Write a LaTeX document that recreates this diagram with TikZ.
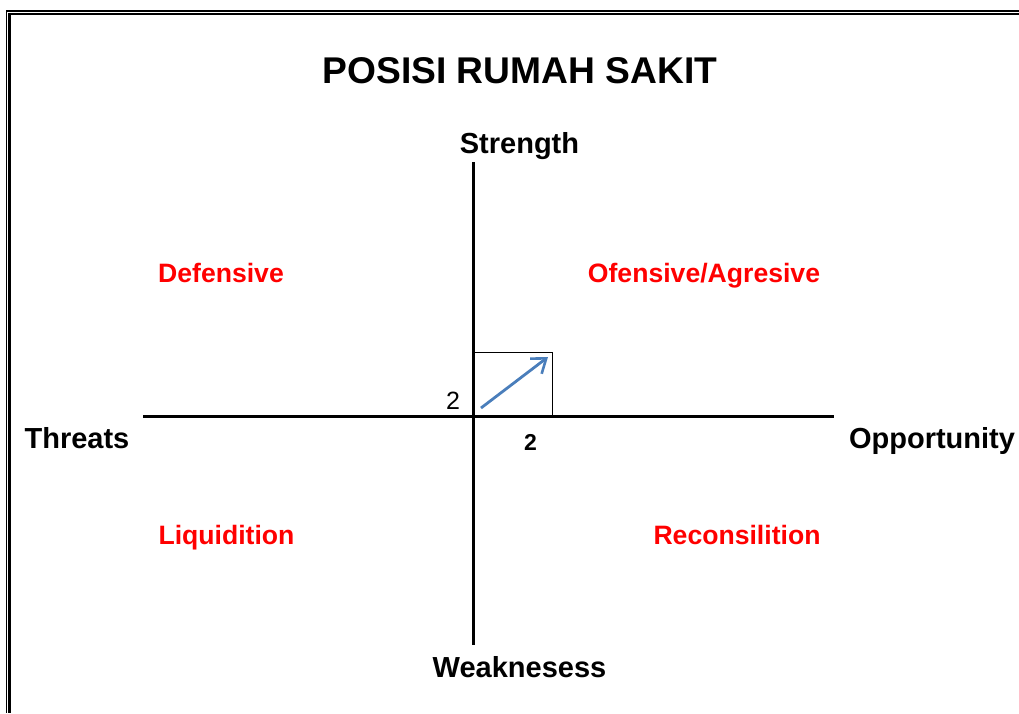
\documentclass[tikz,border=0pt]{standalone}
\usepackage{fontspec}
\setmainfont{Liberation Sans}
\usetikzlibrary{arrows.meta}
\definecolor{quadred}{HTML}{FF0000}
\definecolor{arrowblue}{HTML}{4A7EBB}
\tikzset{
  lbl/.style={anchor=base, inner sep=0pt, font=\bfseries\fontsize{29}{34}\selectfont},
  quad/.style={anchor=base, inner sep=0pt, text=quadred, font=\bfseries\fontsize{26.6}{31}\selectfont},
  axis/.style={line width=3pt},
  framebar/.style={fill=black}
}
\begin{document}
\begin{tikzpicture}[x=1pt, y=-1pt]
\useasboundingbox (0,0) rectangle (1019,713);
% double page frame
\fill[framebar] (6,10) rectangle (1019,12.3);
\fill[framebar] (6,10) rectangle (7.3,713);
\fill[framebar] (8.3,13.3) rectangle (1019,15);
\fill[framebar] (8.3,13.3) rectangle (11,713);

% title
\node[anchor=base, inner sep=0pt, font=\bfseries\fontsize{37.2}{44}\selectfont] (title) at (520,83) {POSISI RUMAH SAKIT};

% axis end points
\coordinate (s) at (473.3,162);
\coordinate (w) at (473.3,645);
\coordinate (t) at (143,416);
\coordinate (o) at (834,416);
\draw[axis] (s) -- (w);
\draw[axis] (t) -- (o);

% axis labels
\node[lbl] (strength) at (519.5,153) {Strength};
\node[lbl] (weakness) at (519.5,677) {Weaknesess};
\node[lbl] (threats) at (77,448) {Threats};
\node[lbl] (opportunity) at (932,448) {Opportunity};

% quadrant names
\node[quad] (def) at (221,282) {Defensive};
\node[quad] (ofe) at (704,282) {Ofensive/Agresive};
\node[quad] (liq) at (226.5,544) {Liquidition};
\node[quad] (rec) at (737,544) {Reconsilition};

% position box and direction arrow
\coordinate (origin) at (473.3,416);
\coordinate (corner) at (552.5,352.5);
\draw[line width=1.6pt] (origin) rectangle (corner);
\coordinate (a0) at (481,408);
\coordinate (a1) at (548,357);
\draw[arrowblue, line width=2.8pt, -{Straight Barb[length=13pt, width=19pt, line width=2.6pt]}] (a0) -- (a1);

% scores
\node[anchor=base, inner sep=0pt, font=\fontsize{25}{30}\selectfont] (sy) at (453,409) {2};
\node[anchor=base, inner sep=0pt, font=\bfseries\fontsize{23}{28}\selectfont] (sx) at (530.5,450) {2};
\end{tikzpicture}
\end{document}
